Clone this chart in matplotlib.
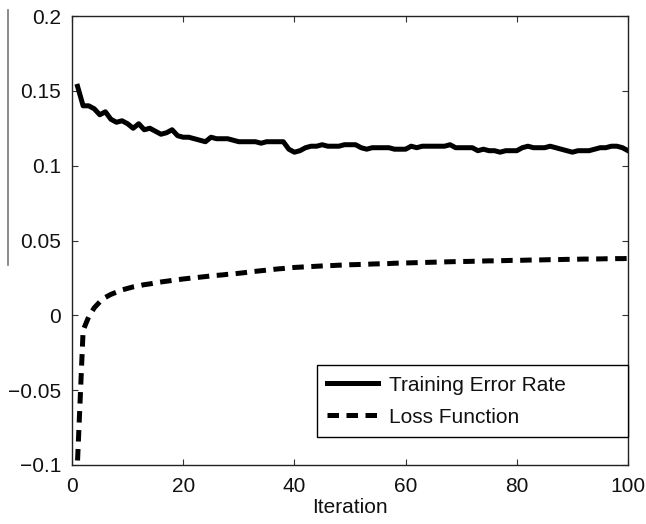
import numpy as np
import matplotlib
matplotlib.use("Agg")
from matplotlib import pyplot as plt
from matplotlib.lines import Line2D

iterations = list(range(1, 101))

training_error = [
    0.153, 0.140, 0.140, 0.138, 0.134, 0.136, 0.131, 0.129, 0.130, 0.128,
    0.125, 0.128, 0.124, 0.125, 0.123, 0.121, 0.122, 0.124, 0.120, 0.119,
    0.119, 0.118, 0.117, 0.116, 0.119, 0.118, 0.118, 0.118, 0.117, 0.116,
    0.116, 0.116, 0.116, 0.115, 0.116, 0.116, 0.116, 0.116, 0.111, 0.109,
    0.110, 0.112, 0.113, 0.113, 0.114, 0.113, 0.113, 0.113, 0.114, 0.114,
    0.114, 0.112, 0.111, 0.112, 0.112, 0.112, 0.112, 0.111, 0.111, 0.111,
    0.113, 0.112, 0.113, 0.113, 0.113, 0.113, 0.113, 0.114, 0.112, 0.112,
    0.112, 0.112, 0.110, 0.111, 0.110, 0.110, 0.109, 0.110, 0.110, 0.110,
    0.112, 0.113, 0.112, 0.112, 0.112, 0.113, 0.112, 0.111, 0.110, 0.109,
    0.110, 0.110, 0.110, 0.111, 0.112, 0.112, 0.113, 0.113, 0.112, 0.110,
]

loss_function = [
    -0.097, -0.010, -0.001, 0.005, 0.009, 0.012, 0.014, 0.0155, 0.017, 0.018,
    0.019, 0.0197, 0.0205, 0.021, 0.0217, 0.0223, 0.0228, 0.0233, 0.0238, 0.0243,
    0.0247, 0.0251, 0.0255, 0.0259, 0.0263, 0.0267, 0.027, 0.0274, 0.0277, 0.0281,
    0.0285, 0.029, 0.0294, 0.0298, 0.0302, 0.0306, 0.031, 0.0313, 0.0317, 0.032,
    0.0322, 0.0324, 0.0326, 0.0328, 0.033, 0.0332, 0.0333, 0.0335, 0.0336, 0.0338,
    0.0339, 0.034, 0.0341, 0.0343, 0.0344, 0.0345, 0.0346, 0.0348, 0.0349, 0.035,
    0.0351, 0.0352, 0.0353, 0.0354, 0.0355, 0.0356, 0.0357, 0.0358, 0.0359, 0.036,
    0.036, 0.0361, 0.0362, 0.0363, 0.0364, 0.0364, 0.0365, 0.0366, 0.0367, 0.0367,
    0.0368, 0.0369, 0.037, 0.037, 0.0371, 0.0372, 0.0372, 0.0373, 0.0374, 0.0374,
    0.0375, 0.0376, 0.0376, 0.0377, 0.0377, 0.0378, 0.0378, 0.0379, 0.0379, 0.038,
]

y_ticks = [-0.1, -0.05, 0, 0.05, 0.1, 0.15, 0.2]
y_tick_labels = ["\u22120.1", "\u22120.05", "0", "0.05", "0.1", "0.15", "0.2"]
x_ticks = [0, 20, 40, 60, 80, 100]

plt.rcParams["font.family"] = ["Liberation Sans", "DejaVu Sans"]
fs = 15

fig = plt.figure(figsize=(6.46, 5.24), dpi=100)
ax = fig.add_axes([72 / 646, 59 / 524, 556 / 646, 449 / 524])

ax.plot(iterations, training_error, color="black", lw=3.6,
        solid_joinstyle="round", label="Training Error Rate")
ax.plot(iterations, loss_function, color="black", lw=3.6,
        dashes=(2.3, 1.5), label="Loss Function")

ax.set_xlim(0, 100)
ax.set_ylim(-0.1, 0.2)
ax.set_xticks(x_ticks)
ax.set_yticks(y_ticks)
ax.set_yticklabels(y_tick_labels)
ax.tick_params(direction="in", length=4, width=0.8, top=True, right=True,
               labelsize=fs, color="#333333", labelcolor="#111111")
ax.tick_params(axis="y", pad=8)
ax.tick_params(axis="x", pad=9)
for s in ax.spines.values():
    s.set_linewidth(1.0)
    s.set_color("#222222")

ax.set_xlabel("Iteration", fontsize=fs, labelpad=1, color="#111111")

leg = ax.legend(loc="lower left", bbox_to_anchor=(0.4406, 0.0624, 0.5594, 0.17),
                mode="expand", borderaxespad=0, fancybox=False, framealpha=1,
                edgecolor="black", handlelength=2.45, handletextpad=0.5,
                labelspacing=0.62, borderpad=0.5, fontsize=fs)
leg.get_frame().set_linewidth(1.0)
for t in leg.get_texts():
    t.set_color("#111111")

# stray gray rule at the far left of the original figure
fig.add_artist(Line2D([8 / 646, 8 / 646], [1 - 10 / 524, 1 - 265 / 524],
                      transform=fig.transFigure, color="#777777", lw=1.2))

fig.savefig("out.png", dpi=100)
